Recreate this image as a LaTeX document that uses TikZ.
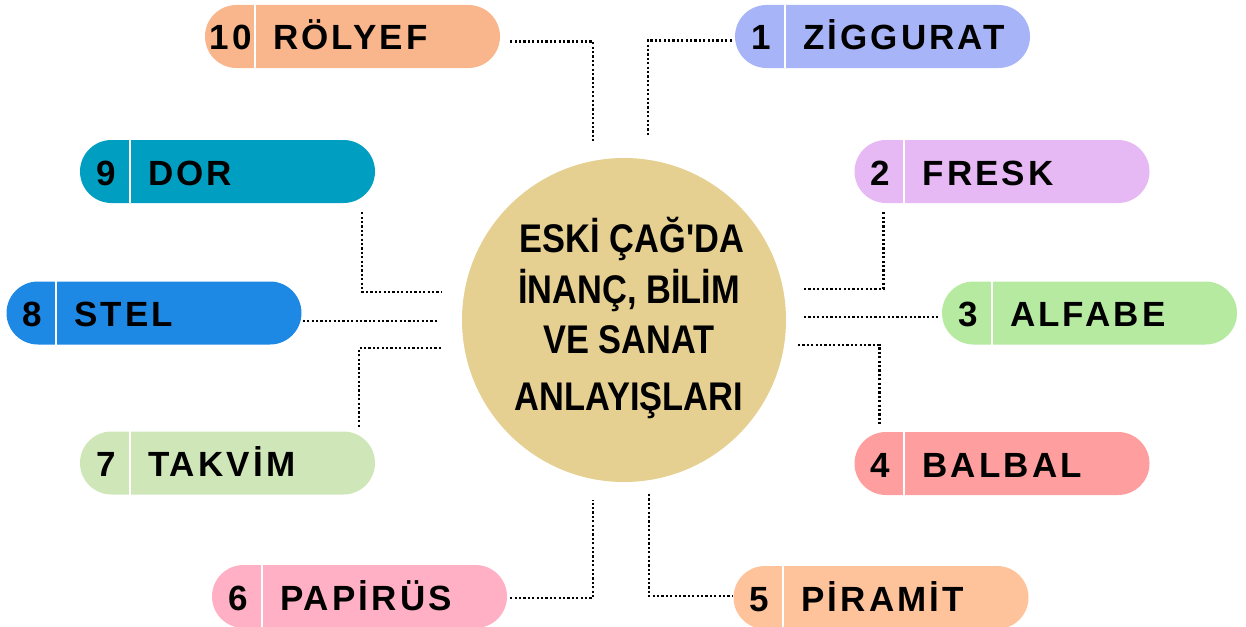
\documentclass[tikz,border=0pt]{standalone}
\usepackage{fontspec}
\setmainfont{Liberation Sans}
\newfontfamily\pillfont{Liberation Sans}[LetterSpace=9]
\newfontfamily\titlefont{Liberation Sans}[FakeStretch=0.86]
\usetikzlibrary{calc}
\definecolor{cten}{HTML}{F9B58B}
\definecolor{cone}{HTML}{A8B4F8}
\definecolor{cnine}{HTML}{009FC2}
\definecolor{ctwo}{HTML}{E6B8F4}
\definecolor{ceight}{HTML}{1E88E5}
\definecolor{cthree}{HTML}{B5EAA0}
\definecolor{cseven}{HTML}{CFE6B8}
\definecolor{cfour}{HTML}{FF9E9E}
\definecolor{csix}{HTML}{FFB0C5}
\definecolor{cfive}{HTML}{FFC39B}
\definecolor{circ}{HTML}{E5CF91}
\newcommand\pillnode[6]{%
  \node[pill, fill=#4] (#1) at (#2,#3) {};
  \draw[white, line width=2.2pt] ([xshift=50pt]#1.north west) -- ([xshift=50pt]#1.south west);
  \node[num] (#1n) at ($(#1.west)+(26,13.5)$) {#5};
  \node[lbl] (#1l) at ($(#1.west)+(68,13.5)$) {#6};
}
\begin{document}
\begin{tikzpicture}[x=1pt,y=-1pt,
  pill/.style={rectangle, rounded corners=31.5pt, minimum width=295pt, minimum height=63pt, inner sep=0pt, draw=none},
  conn/.style={draw=black, line width=2.4pt, dash pattern=on 2.2pt off 2.2pt},
  num/.style={font=\pillfont\bfseries\fontsize{35}{42}\selectfont, anchor=base, inner sep=0pt},
  lbl/.style={font=\pillfont\bfseries\fontsize{35}{42}\selectfont, anchor=base west, inner sep=0pt},
  ttl/.style={font=\titlefont\bfseries\fontsize{40}{46}\selectfont, anchor=base, inner sep=0pt}]
\useasboundingbox (0,0) rectangle (1246,626);
% centre
\node[circle, fill=circ, minimum size=324pt, inner sep=0pt] (center) at (624,320) {};
\node[ttl] (t1) at (632,252) {ESKİ ÇAĞ'DA};
\node[ttl] (t2) at (629,303) {İNANÇ, BİLİM};
\node[ttl] (t3) at (629,353) {VE SANAT};
\node[ttl] (t4) at (629,410) {ANLAYIŞLARI};
% pills
\pillnode{p10}{352.5}{36.5}{cten}{10}{RÖLYEF}
\pillnode{p1}{882.5}{36.5}{cone}{1}{ZİGGURAT}
\pillnode{p9}{227.5}{171.5}{cnine}{9}{DOR}
\pillnode{p2}{1002}{171.5}{ctwo}{2}{FRESK}
\pillnode{p8}{154}{313}{ceight}{8}{STEL}
\pillnode{p3}{1089.5}{313}{cthree}{3}{ALFABE}
\pillnode{p7}{227.5}{463}{cseven}{7}{TAKVİM}
\pillnode{p4}{1002}{463.5}{cfour}{4}{BALBAL}
\pillnode{p6}{359.5}{596.5}{csix}{6}{PAPİRÜS}
\pillnode{p5}{881}{597.5}{cfive}{5}{PİRAMİT}
% connector ends
\coordinate (c10) at (593,143);
\coordinate (c1) at (648,136);
\coordinate (c9) at (442,292);
\coordinate (c2) at (802,289);
\coordinate (c8) at (437,321);
\coordinate (c3) at (804,317);
\coordinate (c7) at (441,348);
\coordinate (c4) at (798,345);
\coordinate (c6) at (593,500);
\coordinate (c5) at (649,494);
% connectors
\draw[conn] ($(p10.east)+(10,5)$) -| (c10);
\draw[conn] ($(p1.west)+(-3,4)$) -| (c1);
\draw[conn] ($(p9.south east)+(-13,9)$) |- (c9);
\draw[conn] ($(p2.south west)+(29,9)$) |- (c2);
\draw[conn] ($(p8.east)+(1,8)$) -- (c8);
\draw[conn] (c3) -- ($(p3.west)+(-2,4)$);
\draw[conn] (c7) -| ($(p7.north east)+(-16,-4)$);
\draw[conn] (c4) -| ($(p4.north west)+(25,-7)$);
\draw[conn] ($(p6.east)+(3,1.5)$) -| (c6);
\draw[conn] (c5) |- ($(p5.west)+(-1,-1.5)$);
\end{tikzpicture}
\end{document}
